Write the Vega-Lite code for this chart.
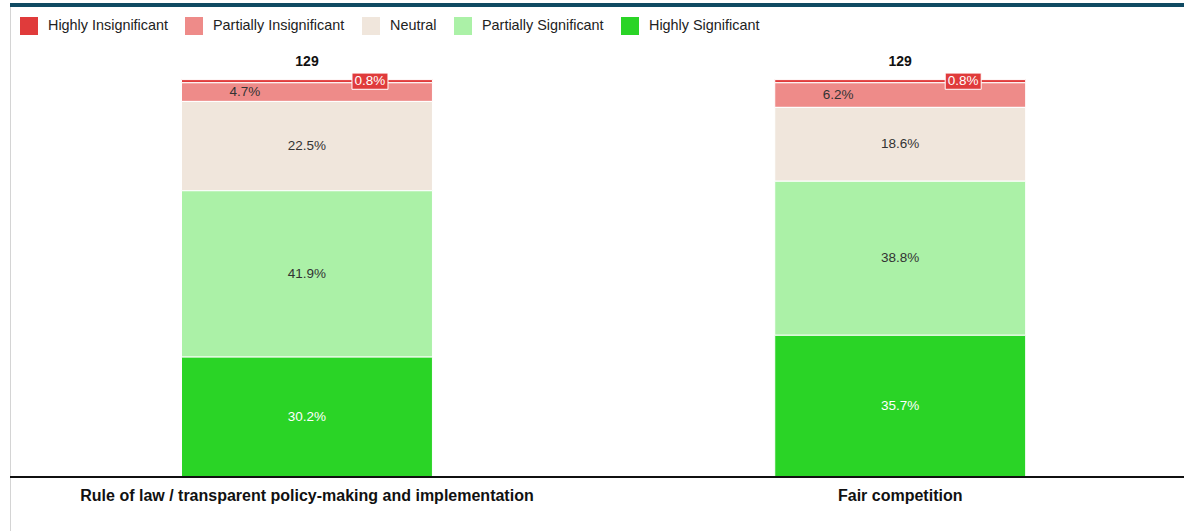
{
  "$schema": "https://vega.github.io/schema/vega-lite/v6.json",
  "width": 1174,
  "height": 526,
  "autosize": {"type": "none"},
  "padding": {"left": 10, "top": 5, "right": 0, "bottom": 0},
  "background": "white",
  "config": {"view": {"stroke": null}, "font": "Liberation Sans"},
  "data": {"values": [
    {"category": "Rule of law / transparent policy-making and implementation", "response": "Highly Insignificant", "rank": 5, "pct": 0.008, "n": 129},
    {"category": "Rule of law / transparent policy-making and implementation", "response": "Partially Insignificant", "rank": 4, "pct": 0.047, "n": 129},
    {"category": "Rule of law / transparent policy-making and implementation", "response": "Neutral", "rank": 3, "pct": 0.225, "n": 129},
    {"category": "Rule of law / transparent policy-making and implementation", "response": "Partially Significant", "rank": 2, "pct": 0.419, "n": 129},
    {"category": "Rule of law / transparent policy-making and implementation", "response": "Highly Significant", "rank": 1, "pct": 0.302, "n": 129},
    {"category": "Fair competition", "response": "Highly Insignificant", "rank": 5, "pct": 0.008, "n": 129},
    {"category": "Fair competition", "response": "Partially Insignificant", "rank": 4, "pct": 0.062, "n": 129},
    {"category": "Fair competition", "response": "Neutral", "rank": 3, "pct": 0.186, "n": 129},
    {"category": "Fair competition", "response": "Partially Significant", "rank": 2, "pct": 0.388, "n": 129},
    {"category": "Fair competition", "response": "Highly Significant", "rank": 1, "pct": 0.357, "n": 129}
  ]},
  "layer": [
    {
      "mark": {"type": "rule", "color": "#0f4a62", "strokeWidth": 4},
      "encoding": {
        "y": {"datum": 1.1889, "type": "quantitative", "scale": {"domain": [-0.136, 1.1889], "nice": false, "zero": false}, "axis": {"orient": "left", "domain": true, "domainColor": "#d4d4d4", "domainWidth": 1, "ticks": false, "labels": false, "grid": false, "title": null}}
      }
    },
    {
      "mark": {"type": "bar", "stroke": "white", "strokeWidth": 1},
      "encoding": {
        "x": {"field": "category", "type": "nominal", "sort": ["Rule of law / transparent policy-making and implementation", "Fair competition"], "scale": {"paddingInner": 0.577, "paddingOuter": 0.278, "align": 0.52}, "axis": null},
        "y": {"field": "pct", "type": "quantitative", "stack": "zero"},
        "order": {"field": "rank", "type": "quantitative"},
        "color": {"field": "response", "type": "nominal",
          "scale": {"domain": ["Highly Insignificant", "Partially Insignificant", "Neutral", "Partially Significant", "Highly Significant"],
                    "range": ["#e03b3b", "#ee8b89", "#f0e6dc", "#abf1a7", "#2ad426"]},
          "legend": {"title": null, "orient": "none", "legendX": 10, "legendY": 12, "direction": "horizontal", "symbolType": "square", "symbolSize": 324, "symbolStrokeWidth": 0, "labelFontSize": 14.4, "labelColor": "#222", "labelOffset": 10, "columnPadding": 17, "labelLimit": 300}}
      }
    },
    {
      "mark": {"type": "rule", "color": "#111", "strokeWidth": 1.5},
      "encoding": {"y": {"datum": 0, "type": "quantitative"}}
    },
    {
      "mark": {"type": "text", "fontSize": 13.5, "baseline": "middle"},
      "encoding": {
        "x": {"field": "category", "type": "nominal", "sort": ["Rule of law / transparent policy-making and implementation", "Fair competition"]},
        "y": {"field": "pct", "type": "quantitative", "stack": "zero", "bandPosition": 0.5},
        "order": {"field": "rank", "type": "quantitative"},
        "detail": {"field": "response", "type": "nominal"},
        "text": {"field": "pct", "type": "quantitative", "format": ".1%"},
        "color": {"condition": {"test": "datum.response === 'Highly Significant'", "value": "white"}, "value": "#333"},
        "opacity": {"condition": {"test": "datum.response !== 'Partially Insignificant' && datum.response !== 'Highly Insignificant'", "value": 1}, "value": 0}
      }
    },
    {
      "mark": {"type": "text", "fontSize": 13.5, "baseline": "middle", "dx": -62, "color": "#333"},
      "encoding": {
        "x": {"field": "category", "type": "nominal", "sort": ["Rule of law / transparent policy-making and implementation", "Fair competition"]},
        "y": {"field": "pct", "type": "quantitative", "stack": "zero", "bandPosition": 0.5},
        "order": {"field": "rank", "type": "quantitative"},
        "detail": {"field": "response", "type": "nominal"},
        "text": {"field": "pct", "type": "quantitative", "format": ".1%"},
        "opacity": {"condition": {"test": "datum.response === 'Partially Insignificant'", "value": 1}, "value": 0}
      }
    },
    {
      "mark": {"type": "point", "shape": "M-1,-0.45L1,-0.45L1,0.45L-1,0.45Z", "size": 1296, "filled": true, "color": "#e03b3b", "stroke": "white", "strokeWidth": 1, "xOffset": 63},
      "encoding": {
        "x": {"field": "category", "type": "nominal", "sort": ["Rule of law / transparent policy-making and implementation", "Fair competition"]},
        "y": {"field": "pct", "type": "quantitative", "stack": "zero", "bandPosition": 0.5},
        "order": {"field": "rank", "type": "quantitative"},
        "detail": {"field": "response", "type": "nominal"},
        "opacity": {"condition": {"test": "datum.response === 'Highly Insignificant'", "value": 1}, "value": 0}
      }
    },
    {
      "mark": {"type": "text", "fontSize": 13.5, "baseline": "middle", "dx": 63, "color": "white"},
      "encoding": {
        "x": {"field": "category", "type": "nominal", "sort": ["Rule of law / transparent policy-making and implementation", "Fair competition"]},
        "y": {"field": "pct", "type": "quantitative", "stack": "zero", "bandPosition": 0.5},
        "order": {"field": "rank", "type": "quantitative"},
        "detail": {"field": "response", "type": "nominal"},
        "text": {"field": "pct", "type": "quantitative", "format": ".1%"},
        "opacity": {"condition": {"test": "datum.response === 'Highly Insignificant'", "value": 1}, "value": 0}
      }
    },
    {
      "transform": [{"filter": "datum.response === 'Highly Insignificant'"}],
      "mark": {"type": "text", "fontSize": 14, "fontWeight": "bold", "baseline": "middle", "dy": -18, "color": "#111"},
      "encoding": {
        "x": {"field": "category", "type": "nominal", "sort": ["Rule of law / transparent policy-making and implementation", "Fair competition"]},
        "y": {"datum": 1.001, "type": "quantitative"},
        "text": {"field": "n", "type": "quantitative"}
      }
    },
    {
      "transform": [{"filter": "datum.response === 'Highly Insignificant'"}],
      "mark": {"type": "text", "fontSize": 16, "fontWeight": "bold", "baseline": "middle", "dy": 19, "color": "#111"},
      "encoding": {
        "x": {"field": "category", "type": "nominal", "sort": ["Rule of law / transparent policy-making and implementation", "Fair competition"]},
        "y": {"datum": 0, "type": "quantitative"},
        "text": {"field": "category", "type": "nominal"}
      }
    }
  ]
}
